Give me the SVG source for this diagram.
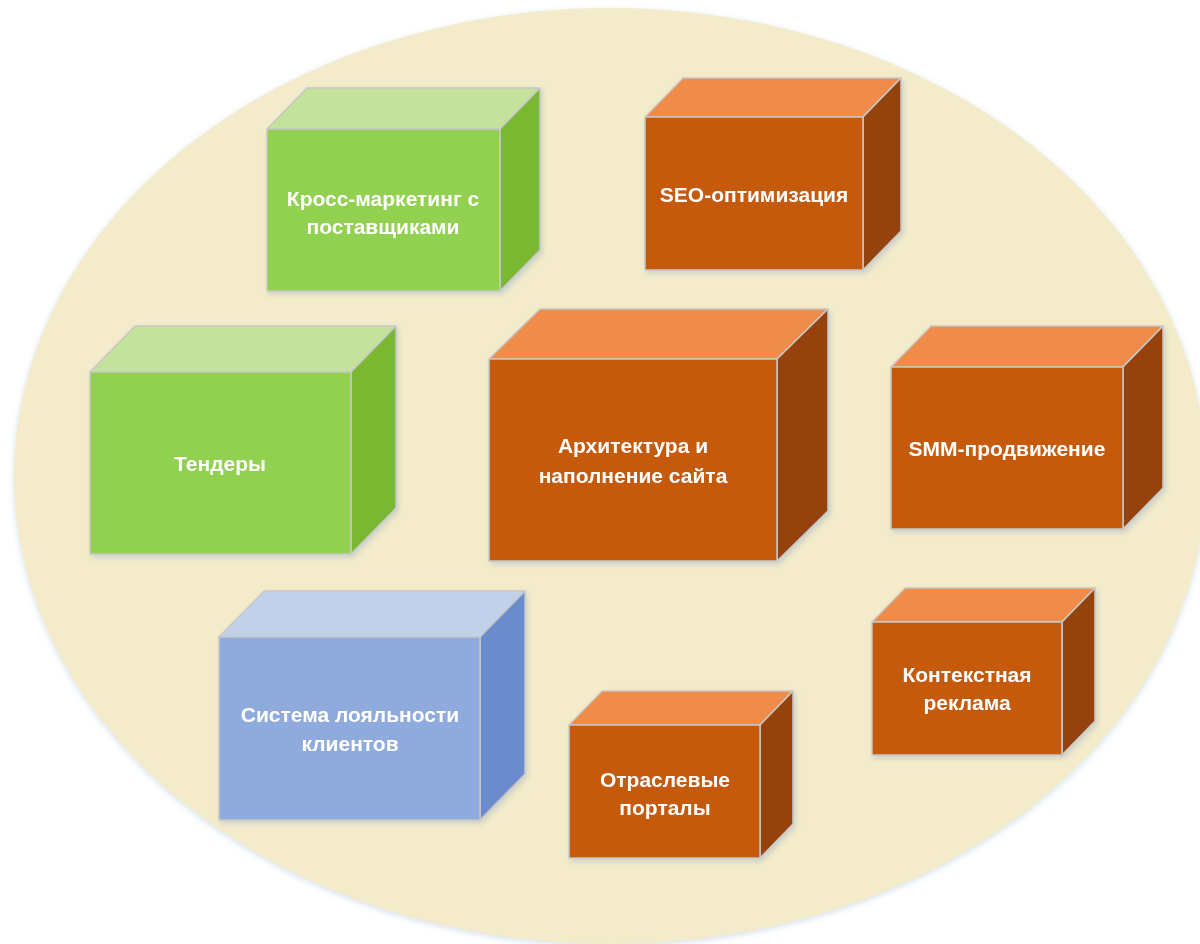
<svg xmlns="http://www.w3.org/2000/svg" width="1200" height="944" viewBox="0 0 1200 944">
  <defs>
    <filter id="soft" x="-10%" y="-10%" width="120%" height="120%">
      <feDropShadow dx="2" dy="3" stdDeviation="2.5" flood-color="#9fb3c8" flood-opacity="0.45"/>
    </filter>
    <filter id="glow" x="-5%" y="-5%" width="110%" height="110%">
      <feDropShadow dx="0" dy="2" stdDeviation="3" flood-color="#b8cde0" flood-opacity="0.6"/>
    </filter>
  </defs>
  <style>
    .edge { stroke: #c8c8c8; stroke-width: 1.5; stroke-linejoin: round; }
    .g-front { fill: #92d050; }
    .g-top { fill: #c4e29c; }
    .g-side { fill: #7ab833; }
    .o-front { fill: #c55a11; }
    .o-top { fill: #ef8c4a; }
    .o-side { fill: #95420e; }
    .b-front { fill: #8faadc; }
    .b-top { fill: #c1d1ea; }
    .b-side { fill: #6a8bcc; }
    .label { font-family: "Liberation Sans", Arial, sans-serif; font-weight: bold; font-size: 21px; fill: #ffffff; text-anchor: middle; }
  </style>

  <rect width="1200" height="944" fill="#ffffff"/>

  <!-- backdrop -->
  <ellipse id="backdrop" cx="610" cy="476" rx="596" ry="468" fill="#f3ebc9" filter="url(#glow)"/>

  <!-- connectors: none in this layout -->
  <g id="connectors"></g>

  <!-- Кросс-маркетинг с поставщиками -->
  <g id="cross-marketing" filter="url(#soft)">
    <polygon class="g-top edge" points="267,129 307,88 540,88 500,129"/>
    <polygon class="g-side edge" points="500,129 540,88 540,250 500,291"/>
    <rect class="g-front edge" x="267" y="129" width="233" height="162"/>
    <text class="label" x="383" y="206">Кросс-маркетинг с</text>
    <text class="label" x="383" y="234">поставщиками</text>
  </g>

  <!-- SEO-оптимизация -->
  <g id="seo" filter="url(#soft)">
    <polygon class="o-top edge" points="645,117 683,78 901,78 863,117"/>
    <polygon class="o-side edge" points="863,117 901,78 901,231 863,270"/>
    <rect class="o-front edge" x="645" y="117" width="218" height="153"/>
    <text class="label" x="754" y="202">SEO-оптимизация</text>
  </g>

  <!-- Тендеры -->
  <g id="tenders" filter="url(#soft)">
    <polygon class="g-top edge" points="90,372 135,326 396,326 351,372"/>
    <polygon class="g-side edge" points="351,372 396,326 396,508 351,554"/>
    <rect class="g-front edge" x="90" y="372" width="261" height="182"/>
    <text class="label" x="220" y="471">Тендеры</text>
  </g>

  <!-- Архитектура и наполнение сайта -->
  <g id="site-architecture" filter="url(#soft)">
    <polygon class="o-top edge" points="489,359 540,309 828,309 777,359"/>
    <polygon class="o-side edge" points="777,359 828,309 828,511 777,561"/>
    <rect class="o-front edge" x="489" y="359" width="288" height="202"/>
    <text class="label" x="633" y="453">Архитектура и</text>
    <text class="label" x="633" y="483">наполнение сайта</text>
  </g>

  <!-- SMM-продвижение -->
  <g id="smm" filter="url(#soft)">
    <polygon class="o-top edge" points="891,367 931,326 1163,326 1123,367"/>
    <polygon class="o-side edge" points="1123,367 1163,326 1163,488 1123,529"/>
    <rect class="o-front edge" x="891" y="367" width="232" height="162"/>
    <text class="label" x="1007" y="456">SMM-продвижение</text>
  </g>

  <!-- Система лояльности клиентов -->
  <g id="loyalty" filter="url(#soft)">
    <polygon class="b-top edge" points="219,637 264,591 525,591 480,637"/>
    <polygon class="b-side edge" points="480,637 525,591 525,774 480,820"/>
    <rect class="b-front edge" x="219" y="637" width="261" height="183"/>
    <text class="label" x="350" y="722">Система лояльности</text>
    <text class="label" x="350" y="751">клиентов</text>
  </g>

  <!-- Отраслевые порталы -->
  <g id="industry-portals" filter="url(#soft)">
    <polygon class="o-top edge" points="569,725 602,691 793,691 760,725"/>
    <polygon class="o-side edge" points="760,725 793,691 793,824 760,858"/>
    <rect class="o-front edge" x="569" y="725" width="191" height="133"/>
    <text class="label" x="665" y="787">Отраслевые</text>
    <text class="label" x="665" y="815">порталы</text>
  </g>

  <!-- Контекстная реклама -->
  <g id="context-ads" filter="url(#soft)">
    <polygon class="o-top edge" points="872,622 905,588 1095,588 1062,622"/>
    <polygon class="o-side edge" points="1062,622 1095,588 1095,721 1062,755"/>
    <rect class="o-front edge" x="872" y="622" width="190" height="133"/>
    <text class="label" x="967" y="682">Контекстная</text>
    <text class="label" x="967" y="710">реклама</text>
  </g>
</svg>
